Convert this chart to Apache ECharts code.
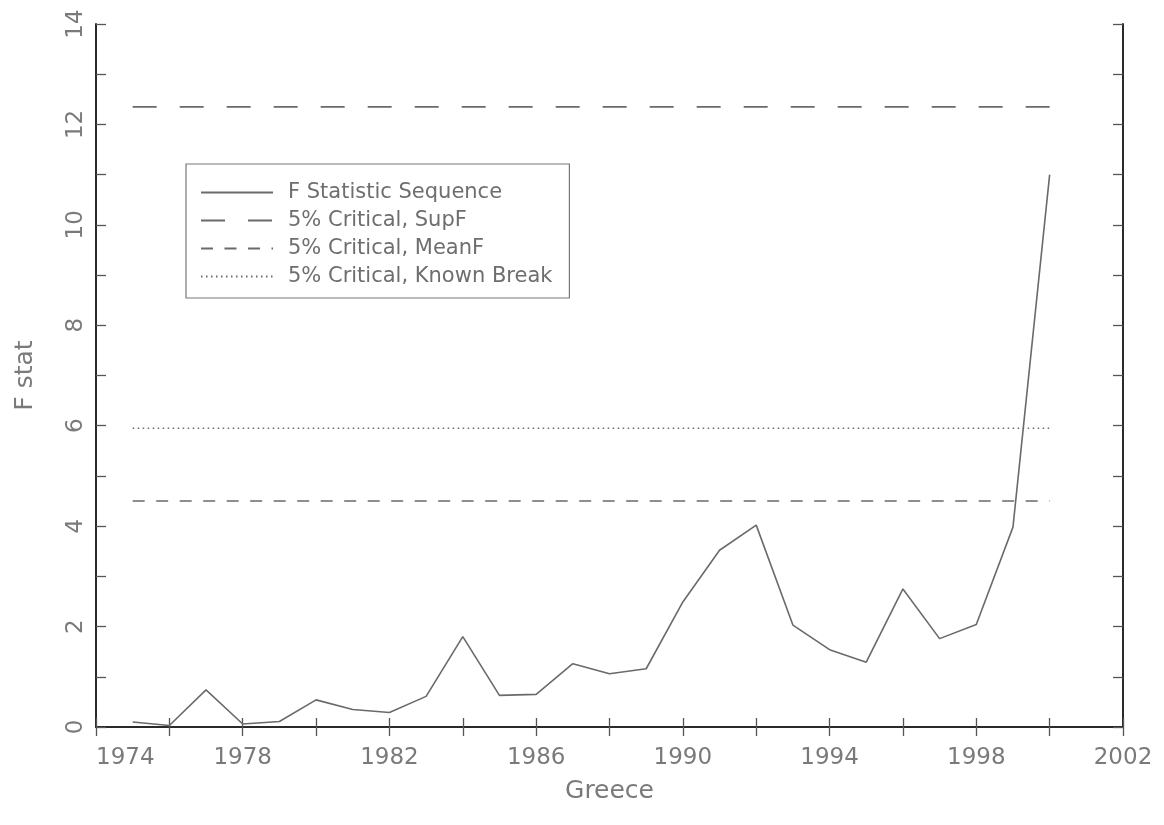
<!DOCTYPE html>
<html>
<head>
<meta charset="utf-8">
<script src="https://cdn.jsdelivr.net/npm/echarts@6/dist/echarts.min.js"></script>
<style>
  html, body { margin: 0; padding: 0; background: #fff; }
  #chart { width: 1164px; height: 825px; }
</style>
</head>
<body>
<div id="chart"></div>
<script>
// ---- data ----
const years = [1975, 1976, 1977, 1978, 1979, 1980, 1981, 1982, 1983, 1984, 1985, 1986, 1987,
               1988, 1989, 1990, 1991, 1992, 1993, 1994, 1995, 1996, 1997, 1998, 1999, 2000];
const fStat = [0.10, 0.03, 0.74, 0.06, 0.11, 0.54, 0.35, 0.29, 0.61, 1.80, 0.63, 0.65, 1.26,
               1.06, 1.16, 2.49, 3.52, 4.02, 2.03, 1.54, 1.29, 2.75, 1.76, 2.04, 3.98, 11.0];
const supFCritical = 12.35;
const meanFCritical = 4.5;
const knownBreakCritical = 5.95;
const seriesNames = ['F Statistic Sequence', '5% Critical, SupF', '5% Critical, MeanF', '5% Critical, Known Break'];
const xLabelYears = [1974, 1978, 1982, 1986, 1990, 1994, 1998, 2002];
const yTicks = [0, 2, 4, 6, 8, 10, 12, 14];

const FONT = 'DejaVu Sans';
const TXT = '#7a7a7a';
const LINE = '#6a6a6a';

function flat(v) { return [[years[0], v], [years[years.length - 1], v]]; }

const chart = echarts.init(document.getElementById('chart'), null, { renderer: 'canvas' });

const axisLineStyle = { color: '#2a2a2a', width: 2 };
const tickStyle = { color: '#555', width: 1.3 };
const xMin = xLabelYears[0], xMax = xLabelYears[xLabelYears.length - 1];
const yMin = yTicks[0], yMax = yTicks[yTicks.length - 1];

chart.setOption({
  animation: false,
  backgroundColor: '#ffffff',
  grid: { left: 96, right: 41, top: 24, bottom: 98, containLabel: false },
  legend: {
    orient: 'vertical',
    left: 186,
    top: 164,
    padding: [18, 17, 11, 14],
    itemWidth: 72,
    itemHeight: 14,
    itemGap: 7,
    borderColor: '#777',
    borderWidth: 1.2,
    itemStyle: { opacity: 0 },
    textStyle: { fontFamily: FONT, fontSize: 21, color: '#6e6e6e', padding: [0, 0, 0, 10] },
    data: seriesNames
  },
  xAxis: [{
    type: 'value',
    min: xMin,
    max: xMax,
    interval: 2,
    name: 'Greece',
    nameLocation: 'middle',
    nameGap: 52,
    nameTextStyle: { fontFamily: FONT, fontSize: 25, color: TXT },
    axisLine: { show: true, lineStyle: axisLineStyle },
    axisTick: { show: true, inside: true, length: 9, lineStyle: tickStyle },
    splitLine: { show: false },
    axisLabel: {
      fontFamily: FONT, fontSize: 23, color: TXT, margin: 20,
      alignMinLabel: 'left',
      formatter: v => (xLabelYears.indexOf(v) >= 0 ? String(v) : '')
    }
  }, {
    type: 'value',
    position: 'top',
    min: xMin,
    max: xMax,
    interval: 2,
    axisLine: { show: true, lineStyle: axisLineStyle },
    axisTick: { show: true, inside: true, length: 9, lineStyle: tickStyle },
    splitLine: { show: false },
    axisLabel: { show: false }
  }],
  yAxis: [{
    type: 'value',
    min: yMin,
    max: yMax,
    interval: 1,
    name: 'F stat',
    nameLocation: 'middle',
    nameGap: 58,
    nameRotate: 90,
    nameTextStyle: { fontFamily: FONT, fontSize: 25, color: TXT },
    axisLine: { show: true, lineStyle: axisLineStyle },
    axisTick: { show: true, inside: true, length: 10, lineStyle: tickStyle },
    splitLine: { show: false },
    axisLabel: {
      fontFamily: FONT, fontSize: 23, color: TXT, margin: 8, rotate: 90,
      formatter: v => (yTicks.indexOf(v) >= 0 ? String(v) : '')
    }
  }, {
    type: 'value',
    position: 'right',
    min: yMin,
    max: yMax,
    interval: 1,
    axisLine: { show: true, lineStyle: axisLineStyle },
    axisTick: { show: true, inside: true, length: 10, lineStyle: tickStyle },
    splitLine: { show: false },
    axisLabel: { show: false }
  }],
  series: [{
    name: seriesNames[0],
    type: 'line',
    data: years.map((y, i) => [y, fStat[i]]),
    symbol: 'none',
    lineStyle: { color: LINE, width: 1.6, type: 'solid' },
    itemStyle: { color: LINE },
    z: 5
  }, {
    name: seriesNames[1],
    type: 'line',
    data: flat(supFCritical),
    symbol: 'none',
    lineStyle: { color: LINE, width: 1.6, type: [24, 23] },
    itemStyle: { color: LINE }
  }, {
    name: seriesNames[2],
    type: 'line',
    data: flat(meanFCritical),
    symbol: 'none',
    lineStyle: { color: LINE, width: 1.6, type: [12, 11.5] },
    itemStyle: { color: LINE }
  }, {
    name: seriesNames[3],
    type: 'line',
    data: flat(knownBreakCritical),
    symbol: 'none',
    lineStyle: { color: LINE, width: 1.4, type: [1.5, 3.5] },
    itemStyle: { color: LINE }
  }]
});
</script>
</body>
</html>
